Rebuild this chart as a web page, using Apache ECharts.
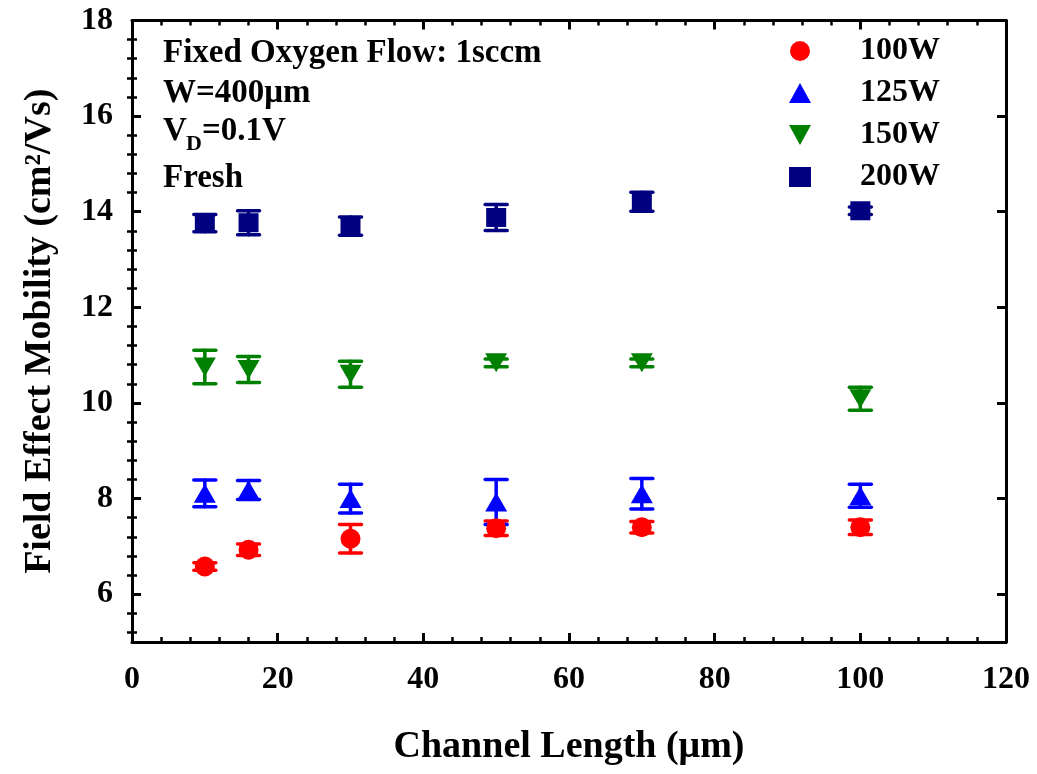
<!DOCTYPE html>
<html>
<head>
<meta charset="utf-8">
<script src="https://cdn.jsdelivr.net/npm/echarts@6/dist/echarts.min.js"></script>
<style>
  html, body { margin: 0; padding: 0; background: #fff; }
  #chart { width: 1037px; height: 774px; }
</style>
</head>
<body>
<div id="chart"></div>
<script>
var lengths = [10, 16, 30, 50, 70, 100]

var mob100 = [6.58, 6.93, 7.16, 7.38, 7.40, 7.40]
var err100 = [0.08, 0.12, 0.30, 0.15, 0.12, 0.15]
var mob125 = [8.11, 8.18, 8.00, 7.93, 8.10, 8.06]
var err125 = [0.28, 0.20, 0.30, 0.47, 0.32, 0.24]
var mob150 = [10.75, 10.70, 10.60, 10.84, 10.84, 10.09]
var err150 = [0.35, 0.27, 0.27, 0.08, 0.08, 0.24]
var mob200 = [13.76, 13.77, 13.70, 13.88, 14.21, 14.02]
var err200 = [0.18, 0.25, 0.19, 0.27, 0.20, 0.08]

var yLabelTicks = [6, 8, 10, 12, 14, 16, 18]
var yMinorTicks = []
for (var v = 5.2; v < 18; v += 0.4) {
  var r = Math.round(v * 10) / 10
  if (Math.abs(r / 2 - Math.round(r / 2)) > 0.01) yMinorTicks.push(r)
}

var FONT = 'Liberation Serif'
var downTri = 'path://M0,0L20,0L10,18Z'

var groups = [
  { name: '100W', mob: mob100, err: err100, color: '#ff0000', symbol: 'circle', size: 20 },
  { name: '125W', mob: mob125, err: err125, color: '#0000ff', symbol: 'triangle', size: [22, 19] },
  { name: '150W', mob: mob150, err: err150, color: '#008000', symbol: downTri, size: [22, 19] },
  { name: '200W', mob: mob200, err: err200, color: '#000080', symbol: 'rect', size: [20, 19] }
]

function errRender(color) {
  return function (params, api) {
    var x = api.value(0)
    var pLo = api.coord([x, api.value(1)])
    var pHi = api.coord([x, api.value(2)])
    var w = 11
    var style = { stroke: color, lineWidth: 3.5, lineCap: 'round' }
    return {
      type: 'group',
      children: [
        { type: 'line', shape: { x1: pLo[0], y1: pLo[1], x2: pHi[0], y2: pHi[1] }, style: style },
        { type: 'line', shape: { x1: pLo[0] - w, y1: pLo[1], x2: pLo[0] + w, y2: pLo[1] }, style: style },
        { type: 'line', shape: { x1: pHi[0] - w, y1: pHi[1], x2: pHi[0] + w, y2: pHi[1] }, style: style }
      ]
    }
  }
}

var series = []
groups.forEach(function (g) {
  series.push({
    name: g.name + ' err',
    type: 'custom',
    renderItem: errRender(g.color),
    encode: { x: 0, y: [1, 2] },
    data: lengths.map(function (x, i) { return [x, g.mob[i] - g.err[i], g.mob[i] + g.err[i]] }),
    z: 2,
    silent: true
  })
  series.push({
    name: g.name,
    type: 'scatter',
    symbol: g.symbol,
    symbolSize: g.size,
    itemStyle: { color: g.color, opacity: 1 },
    data: lengths.map(function (x, i) { return [x, g.mob[i]] }),
    z: 3
  })
})

var axisLine = { show: true, onZero: false, lineStyle: { color: '#000', width: 3 } }
var tickMajor = { show: true, inside: true, length: 9, lineStyle: { color: '#000', width: 3 } }
var tickMinor = { show: true, inside: true, length: 5, lineStyle: { color: '#000', width: 2.5 } }
var labelFont = { color: '#000', fontFamily: FONT, fontWeight: 'bold', fontSize: 32 }
var noteFont = 'bold 33px "Liberation Serif"'

var option = {
  backgroundColor: '#fff',
  animation: false,
  grid: { left: 132, right: 31, top: 20.5, bottom: 132 },
  legend: {
    orient: 'vertical',
    left: 784,
    top: 30,
    itemWidth: 22,
    itemHeight: 20,
    itemGap: 10,
    data: [
      { name: '100W', icon: 'circle' },
      { name: '125W', icon: 'triangle' },
      { name: '150W', icon: downTri },
      { name: '200W', icon: 'rect' }
    ],
    textStyle: { color: '#000', fontFamily: FONT, fontWeight: 'bold', fontSize: 32, lineHeight: 32, padding: [0, 0, 0, 44] }
  },
  xAxis: [
    {
      type: 'value', min: 0, max: 120, interval: 20,
      name: 'Channel Length (μm)', nameLocation: 'middle', nameGap: 86,
      nameTextStyle: { color: '#000', fontFamily: FONT, fontWeight: 'bold', fontSize: 38 },
      axisLine: axisLine, axisTick: tickMajor,
      minorTick: { show: true, splitNumber: 5, length: 5, lineStyle: { color: '#000', width: 2.5 } },
      axisLabel: Object.assign({ margin: 22 }, labelFont),
      splitLine: { show: false }, minorSplitLine: { show: false }
    },
    {
      type: 'value', position: 'top', min: 0, max: 120, interval: 20,
      axisLine: axisLine, axisTick: tickMajor,
      minorTick: { show: true, splitNumber: 5, length: 5, lineStyle: { color: '#000', width: 2.5 } },
      axisLabel: { show: false }, splitLine: { show: false }
    }
  ],
  yAxis: [
    {
      type: 'value', min: 5, max: 18,
      name: 'Field Effect Mobility (cm²/Vs)', nameLocation: 'middle', nameGap: 73,
      nameTextStyle: { color: '#000', fontFamily: FONT, fontWeight: 'bold', fontSize: 38 },
      axisLine: axisLine,
      axisTick: Object.assign({ customValues: yLabelTicks }, tickMajor),
      axisLabel: Object.assign({ margin: 19, customValues: yLabelTicks }, labelFont),
      splitLine: { show: false }
    },
    {
      type: 'value', min: 5, max: 18, position: 'left',
      axisLine: { show: false },
      axisTick: Object.assign({ customValues: yMinorTicks }, tickMinor),
      axisLabel: { show: false }, splitLine: { show: false }
    },
    {
      type: 'value', min: 5, max: 18, position: 'right',
      axisLine: axisLine,
      axisTick: Object.assign({ customValues: yLabelTicks }, tickMajor),
      axisLabel: { show: false }, splitLine: { show: false }
    },
    {
      type: 'value', min: 5, max: 18, position: 'right',
      axisLine: { show: false },
      axisTick: Object.assign({ customValues: yMinorTicks }, tickMinor),
      axisLabel: { show: false }, splitLine: { show: false }
    }
  ],
  graphic: [
    { type: 'text', left: 163, top: 37, style: { text: 'Fixed Oxygen Flow: 1sccm', font: noteFont, fill: '#000' } },
    { type: 'text', left: 163, top: 77, style: { text: 'W=400μm', font: noteFont, fill: '#000' } },
    { type: 'text', left: 163, top: 115, style: { text: 'V', font: noteFont, fill: '#000' } },
    { type: 'text', left: 186, top: 133, style: { text: 'D', font: 'bold 22px "Liberation Serif"', fill: '#000' } },
    { type: 'text', left: 202, top: 115, style: { text: '=0.1V', font: noteFont, fill: '#000' } },
    { type: 'text', left: 163, top: 162, style: { text: 'Fresh', font: noteFont, fill: '#000' } }
  ],
  series: series
}

var chart = echarts.init(document.getElementById('chart'))
chart.setOption(option)
</script>
</body>
</html>
